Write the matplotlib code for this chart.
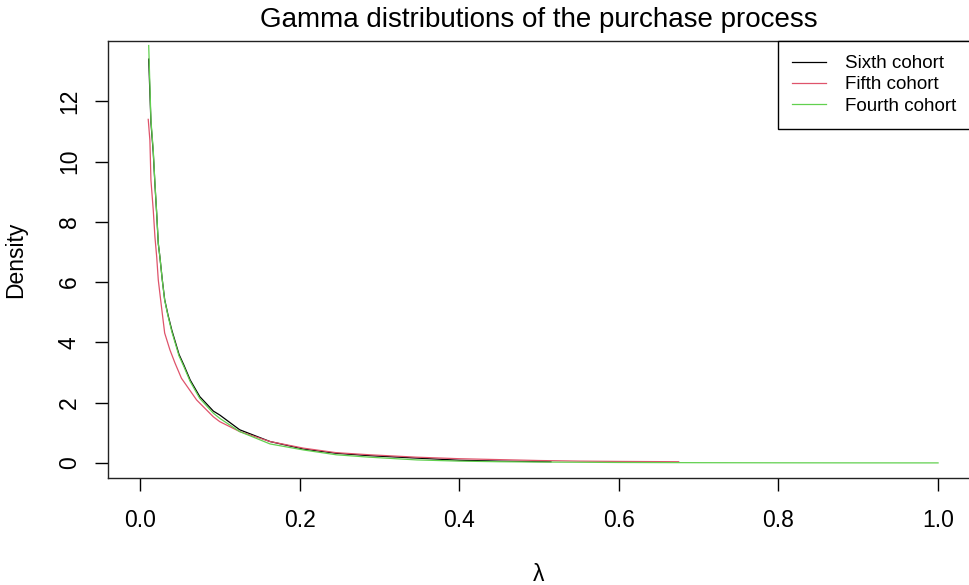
import matplotlib.pyplot as plt

plt.rcParams['font.family'] = ['Liberation Sans', 'DejaVu Sans']

# lambda vs density
sixth_x = [0.011, 0.0138, 0.0167, 0.0188, 0.021, 0.023, 0.025, 0.028, 0.031, 0.035,
           0.040, 0.049, 0.055, 0.063, 0.075, 0.092, 0.100, 0.125, 0.163, 0.205,
           0.246, 0.288, 0.347, 0.40, 0.45, 0.515]
sixth_y = [13.4, 11.3, 10.3, 9.25, 8.27, 7.28, 6.84, 6.08, 5.42, 4.93,
           4.40, 3.60, 3.25, 2.75, 2.20, 1.72, 1.59, 1.10, 0.71, 0.46,
           0.32, 0.24, 0.16, 0.09, 0.06, 0.04]

fifth_x = [0.0104, 0.0125, 0.0138, 0.0167, 0.0188, 0.021, 0.023, 0.027, 0.031, 0.0376,
           0.044, 0.052, 0.071, 0.092, 0.100, 0.125, 0.163, 0.205, 0.246, 0.288,
           0.347, 0.40, 0.45, 0.50, 0.55, 0.60, 0.675]
fifth_y = [11.40, 10.7, 9.38, 8.39, 7.5, 6.84, 6.07, 5.18, 4.31, 3.75,
           3.31, 2.81, 2.09, 1.53, 1.37, 1.04, 0.71, 0.49, 0.34, 0.27,
           0.19, 0.14, 0.11, 0.08, 0.06, 0.05, 0.04]

fourth_x = [0.011, 0.0138, 0.0167, 0.0188, 0.021, 0.023, 0.025, 0.028, 0.031, 0.035,
            0.040, 0.049, 0.055, 0.063, 0.075, 0.092, 0.100, 0.125, 0.163, 0.205,
            0.246, 0.288, 0.347, 0.40, 0.45, 0.50, 0.60, 0.70, 0.80, 0.90, 1.00]
fourth_y = [13.85, 11.37, 10.37, 9.28, 8.29, 7.29, 6.84, 6.07, 5.40, 4.90,
            4.35, 3.55, 3.20, 2.70, 2.14, 1.65, 1.48, 1.04, 0.63, 0.43,
            0.27, 0.19, 0.10, 0.06, 0.04, 0.03, 0.015, 0.008, 0.004, 0.002, 0.001]

x_ticks = [0.0, 0.2, 0.4, 0.6, 0.8, 1.0]
y_ticks = [0, 2, 4, 6, 8, 10, 12]

fig = plt.figure(figsize=(9.69, 5.85), dpi=100)
ax = fig.add_axes([108 / 969, 1 - 478 / 585, 862 / 969, 437 / 585])

ax.plot(sixth_x, sixth_y, color='black', lw=0.9, label='Sixth cohort')
ax.plot(fifth_x, fifth_y, color='#DF536B', lw=0.9, label='Fifth cohort')
ax.plot(fourth_x, fourth_y, color='#61D04F', lw=0.9, label='Fourth cohort')

ax.set_xlim(-0.04, 1.04)
ax.set_ylim(-0.5, 14.0)
ax.set_xticks(x_ticks)
ax.set_xticklabels(['0.0', '0.2', '0.4', '0.6', '0.8', '1.0'])
ax.set_yticks(y_ticks)
ax.set_yticklabels([str(v) for v in y_ticks], rotation=90, va='center')
ax.tick_params(axis='both', length=9.5, width=1, labelsize=16.5, direction='out')
ax.tick_params(axis='x', pad=13)
ax.tick_params(axis='y', pad=10)
for s in ax.spines.values():
    s.set_linewidth(1)
    s.set_color('#222222')

ax.set_title('Gamma distributions of the purchase process', fontsize=20, pad=10)
ax.set_ylabel('Density', fontsize=16.5, labelpad=22)
ax.set_xlabel('λ', fontsize=16.5, labelpad=22)

leg = ax.legend(loc='upper right', bbox_to_anchor=(1, 1), borderaxespad=0,
                fancybox=False, edgecolor='black', framealpha=1, fontsize=13.5,
                handlelength=1.8, handletextpad=1.0, labelspacing=0.22,
                borderpad=0.75)
leg.get_frame().set_linewidth(1)

fig.savefig('out.png', dpi=100)
